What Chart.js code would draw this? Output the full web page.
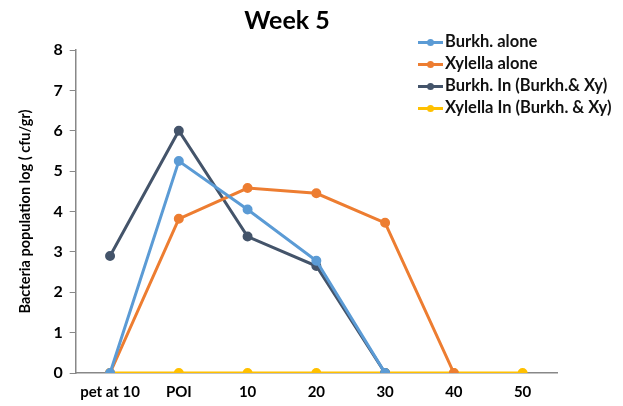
<!DOCTYPE html>
<html>
<head>
<meta charset="utf-8">
<script src="https://cdn.jsdelivr.net/npm/chart.js@4"></script>
<style>
  html, body { margin: 0; padding: 0; background: #fff; }
  #wrap { position: relative; width: 623px; height: 406px; }
  #legend { position: absolute; left: 418px; top: 30px; font-family: Lato, "Open Sans", sans-serif; font-weight: bold; font-size: 16.5px; color: #111; }
  #legend div { height: 22px; line-height: 22px; white-space: nowrap; }
  #legend span.key { display: inline-block; position: relative; width: 25px; height: 3px; vertical-align: middle; margin-right: 2px; }
  #legend span.key i { position: absolute; left: 9px; top: -2px; width: 7px; height: 7px; border-radius: 50%; }
</style>
</head>
<body>
<div id="wrap">
  <canvas id="weekchart" width="623" height="406"></canvas>
  <div id="legend"></div>
</div>
<script>
// Week 5 -------- bacteria population chart
const weeklabels = ['pet at 10', 'POI', '10', '20', '30', '40', '50'];
const burkhalone = [0, 5.25, 4.05, 2.78, 0, null, null];
const xylellaalone = [0, 3.82, 4.58, 4.45, 3.72, 0, null];
const burkhin = [2.9, 6.0, 3.38, 2.65, 0, null, null];
const xylellain = [0, 0, 0, 0, 0, 0, 0];
const serieslabels = ['Burkh. alone', 'Xylella alone', 'Burkh. In (Burkh.& Xy)', 'Xylella In (Burkh. & Xy)'];
const seriescolors = ['#5B9BD5', '#ED7D31', '#44546A', '#FFC000'];

let weekchart = null;

function createweekChart() {
    "use strict";
    const seriesdata = [burkhalone, xylellaalone, burkhin, xylellain];
    const chartdata = {
        labels: weeklabels,
        datasets: seriesdata.map(function (d, i) {
            return {
                label: serieslabels[i],
                data: d,
                borderColor: seriescolors[i],
                backgroundColor: seriescolors[i],
                borderWidth: 3,
                pointRadius: 3.5,
                pointHoverRadius: 3.5,
                tension: 0,
                spanGaps: false
            };
        })
    };

    const config = {
        type: 'line',
        data: chartdata,
        options: {
            responsive: false,
            animation: false,
            layout: {
                padding: { left: 17, right: 66, top: 0, bottom: -5 }
            },
            plugins: {
                legend: { display: false },
                tooltip: { enabled: false },
                title: {
                    display: true,
                    text: 'Week 5',
                    color: '#000',
                    font: { family: 'Lato, "Open Sans", sans-serif', size: 25, weight: 'bold' },
                    padding: { top: 6, bottom: 14 }
                }
            },
            scales: {
                x: {
                    offset: true,
                    grid: { display: false, drawTicks: false },
                    border: { color: '#888', width: 1.5 },
                    ticks: {
                        color: '#000',
                        padding: 10,
                        font: { family: 'Lato, "Open Sans", sans-serif', size: 15, weight: 'bold' }
                    }
                },
                y: {
                    min: 0,
                    max: 8,
                    grid: { display: true, drawOnChartArea: false, drawTicks: true, tickLength: 6, color: '#888' },
                    border: { color: '#888', width: 1.5 },
                    ticks: {
                        stepSize: 1,
                        color: '#000',
                        padding: 7,
                        font: { family: 'Lato, "Open Sans", sans-serif', size: 16, weight: 'bold' }
                    },
                    title: {
                        display: true,
                        text: 'Bacteria population log ( cfu/gr)',
                        color: '#000',
                        font: { family: 'Lato, "Open Sans", sans-serif', size: 14.5, weight: 'bold' },
                        padding: { top: 0, bottom: 12 }
                    }
                }
            }
        }
    };

    if (weekchart != null) {
        weekchart.destroy();
    }
    weekchart = new Chart(document.getElementById('weekchart'), config);

    // legend
    const legend = document.getElementById('legend');
    legend.innerHTML = '';
    serieslabels.forEach(function (l, i) {
        const row = document.createElement('div');
        row.innerHTML = '<span class="key" style="background:' + seriescolors[i] + '"><i style="background:' + seriescolors[i] + '"></i></span>' + l;
        legend.appendChild(row);
    });
}
createweekChart();
</script>
</body>
</html>
